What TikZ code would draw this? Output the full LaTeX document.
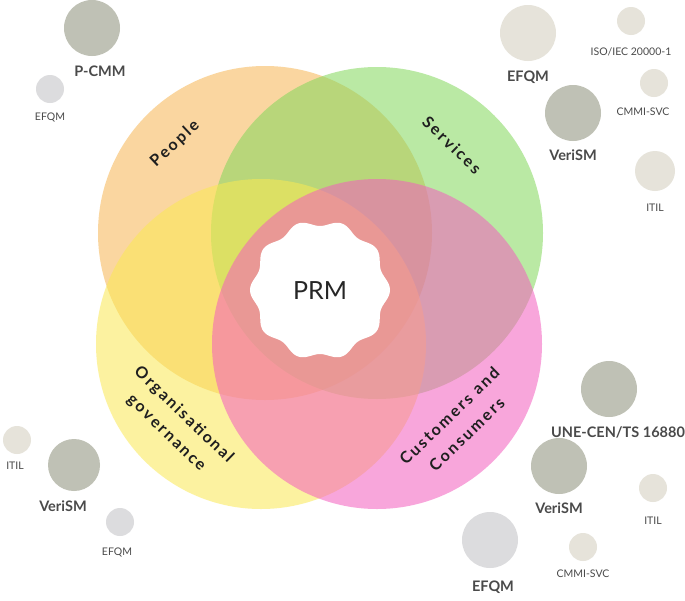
\documentclass[tikz,border=0pt]{standalone}
\usepackage{fontspec}
\setmainfont{Lato}
\newfontfamily\ringfont[LetterSpace=14,UprightFont={* Bold}]{Lato}
\usepackage{tikz}
\usetikzlibrary{positioning}

\definecolor{peoplecol}{HTML}{F6B652}
\definecolor{servicecol}{HTML}{82D75B}
\definecolor{govcol}{HTML}{FAE952}
\definecolor{custcol}{HTML}{F45DBF}
\definecolor{sage}{HTML}{BFC1B5}
\definecolor{mist}{HTML}{DCDCDE}
\definecolor{sand}{HTML}{E6E3DA}
\definecolor{labelgray}{HTML}{4A4A4A}

\begin{document}
\begin{tikzpicture}[x=1pt,y=-1pt,
		ring/.style={fill=#1,fill opacity=0.55},
		ringtext/.style={font=\ringfont\fontsize{16}{25}\selectfont,text=black!88,align=center,inner sep=0pt},
		bubble/.style={circle,inner sep=0pt,fill=#1},
		big/.style={bubble=#1,minimum size=56pt},
		small/.style={bubble=#1,minimum size=28pt},
		bigname/.style={font=\bfseries\fontsize{14.5}{15}\selectfont,text=labelgray,inner sep=0pt},
		smallname/.style={font=\fontsize{10.5}{11}\selectfont,text=labelgray,inner sep=0pt}]
	\useasboundingbox (0,0) rectangle (685,600);
	\fill[white] (0,0) rectangle (685,600);

	\fill[ring=peoplecol] (265,233) circle[radius=167];
	\fill[ring=servicecol] (377,233) circle[radius=166];
	\fill[ring=govcol] (261,344) circle[radius=165];
	\fill[ring=custcol] (377,344) circle[radius=165];

	\fill[white] plot[domain=0:360,samples=241] ({320+(67+3*cos(10*\x))*cos(\x)},{290+(67+3*cos(10*\x))*sin(\x)}) -- cycle;
	\node[font=\fontsize{25}{25}\selectfont,text=black!85] (prm) at (320,291) {PRM};

	\node[ringtext,rotate=43] (people) at (175,144) {People};
	\node[ringtext,rotate=-44] (services) at (452,145) {Services};
	\node[ringtext,rotate=-44] (governance) at (175,424) {Organisational\\governance};
	\node[ringtext,rotate=44] (customers) at (458,425) {Customers and\\Consumers};

	% people
	\node[big=sage] (pcmm) at (92,28) {};
	\node[bigname,below=9pt of pcmm,xshift=8pt] (pcmmname) {P-CMM};
	\node[small=mist] (pefqm) at (50,89) {};
	\node[smallname,below=9pt of pefqm] (pefqmname) {EFQM};

	% services
	\node[big=sand] (sefqm) at (528,33) {};
	\node[bigname,below=9pt of sefqm] (sefqmname) {EFQM};
	\node[small=sand] (siso) at (631,21) {};
	\node[smallname,below=12pt of siso] (sisoname) {ISO/IEC 20000-1};
	\node[small=sand] (scmmi) at (654,83) {};
	\node[smallname,below=10pt of scmmi,xshift=-11pt] (scmminame) {CMMI-SVC};
	\node[big=sage] (sverism) at (573,113) {};
	\node[bigname,below=8pt of sverism] (sverismname) {VeriSM};
	\node[bubble=sand,minimum size=40pt] (sitil) at (655,171) {};
	\node[smallname,below=13pt of sitil] (sitilname) {ITIL};

	% governance
	\node[small=sand] (gitil) at (17,440) {};
	\node[smallname,below=8pt of gitil,xshift=-2pt] (gitilname) {ITIL};
	\node[bubble=sage,minimum size=52pt] (gverism) at (74,465) {};
	\node[bigname,below=9pt of gverism,xshift=-11pt] (gverismname) {VeriSM};
	\node[small=mist] (gefqm) at (120,522) {};
	\node[smallname,below=11pt of gefqm,xshift=-3pt] (gefqmname) {EFQM};

	% customers
	\node[big=sage] (cune) at (609,389) {};
	\node[bigname,below=9pt of cune,xshift=9pt] (cunename) {UNE-CEN/TS 16880};
	\node[big=sage] (cverism) at (559,466) {};
	\node[bigname,below=8pt of cverism] (cverismname) {VeriSM};
	\node[small=sand] (citil) at (653,488) {};
	\node[smallname,below=15pt of citil] (citilname) {ITIL};
	\node[big=mist] (cefqm) at (490,540) {};
	\node[bigname,below=12pt of cefqm,xshift=3pt] (cefqmname) {EFQM};
	\node[small=sand] (ccmmi) at (583,547) {};
	\node[smallname,below=8pt of ccmmi] (ccmminame) {CMMI-SVC};
\end{tikzpicture}
\end{document}
